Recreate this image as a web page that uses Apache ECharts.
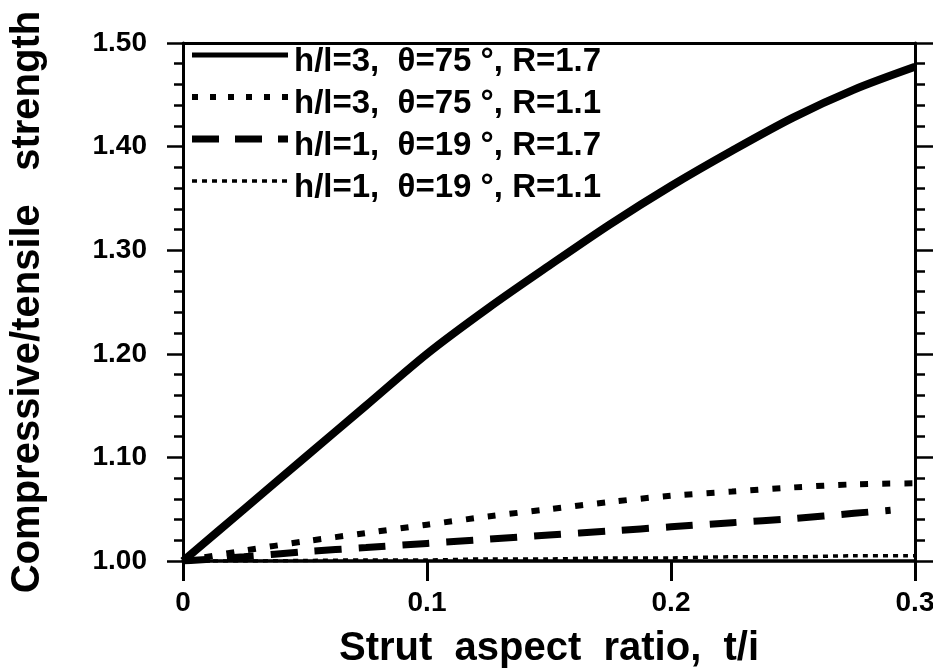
<!DOCTYPE html>
<html>
<head>
<meta charset="utf-8">
<script src="https://cdn.jsdelivr.net/npm/echarts@6/dist/echarts.min.js"></script>
<style>
  html, body { margin: 0; padding: 0; background: #fff; }
  #chart { width: 933px; height: 672px; }
</style>
</head>
<body>
<div id="chart"></div>
<script>
// Strut aspect ratio t/l (x values)
var aspectRatio = [0, 0.025, 0.05, 0.075, 0.1, 0.125, 0.15, 0.175, 0.2, 0.225, 0.25, 0.275, 0.3];
var aspectRatioShort = [0, 0.025, 0.05, 0.075, 0.1, 0.125, 0.15, 0.175, 0.2, 0.225, 0.25, 0.275, 0.29];

// Compressive/tensile strength ratio for each configuration
var h3t75R17 = [1.000, 1.050, 1.100, 1.150, 1.200, 1.244, 1.285, 1.325, 1.362, 1.396, 1.428, 1.455, 1.477];
var h3t75R11 = [1.000, 1.010, 1.019, 1.027, 1.035, 1.043, 1.050, 1.057, 1.063, 1.067, 1.071, 1.074, 1.075];
var h1t19R17 = [1.000, 1.004, 1.009, 1.013, 1.017, 1.021, 1.025, 1.029, 1.033, 1.037, 1.041, 1.046, 1.049];
var h1t19R11 = [1.000, 1.000, 1.0005, 1.001, 1.001, 1.002, 1.002, 1.003, 1.003, 1.004, 1.004, 1.005, 1.005];

var seriesNames = [
  'h/l=3,  \u03b8=75 \u00b0, R=1.7',
  'h/l=3,  \u03b8=75 \u00b0, R=1.1',
  'h/l=1,  \u03b8=19 \u00b0, R=1.7',
  'h/l=1,  \u03b8=19 \u00b0, R=1.1'
];

var xTicks = [0, 0.1, 0.2, 0.3];
var yTicks = [1.00, 1.10, 1.20, 1.30, 1.40, 1.50];

function pairs(xs, ys) {
  return xs.map(function (x, i) { return [x, ys[i]]; });
}

var FONT = '"Liberation Sans", Arial, Helvetica, sans-serif';

// Curve styles: solid, square dots, long dashes, fine dots
var lineStyles = [
  { color: '#000', width: 8, type: 'solid' },
  { color: '#000', width: 6, type: [8, 14] },
  { color: '#000', width: 7, type: [27, 17] },
  { color: '#000', width: 3.5, type: [5, 5] }
];
// Legend sample strokes (slightly finer than the curves)
var legendSamples = [
  { width: 5, dash: null },
  { width: 6, dash: [6, 12] },
  { width: 7, dash: [27, 16] },
  { width: 3.5, dash: [5, 5] }
];

var datasets = [
  pairs(aspectRatio, h3t75R17),
  pairs(aspectRatio, h3t75R11),
  pairs(aspectRatioShort, h1t19R17),
  pairs(aspectRatio, h1t19R11)
];

var chart = echarts.init(document.getElementById('chart'));

// Key box in the upper-left corner of the plot
var legendLeft = 192, legendLineLen = 96, legendTextX = 294;
var legendRowTop = 55, legendRowStep = 42;
var legendGraphics = [];
seriesNames.forEach(function (name, i) {
  var yLine = legendRowTop + i * legendRowStep;
  legendGraphics.push({
    type: 'line',
    shape: { x1: legendLeft, y1: yLine, x2: legendLeft + legendLineLen, y2: yLine },
    style: {
      stroke: '#000',
      lineWidth: legendSamples[i].width,
      lineDash: legendSamples[i].dash
    },
    z: 100
  });
  legendGraphics.push({
    type: 'text',
    x: legendTextX,
    y: yLine + 7,
    style: {
      text: name,
      fill: '#000',
      font: 'bold 33px ' + FONT,
      verticalAlign: 'middle',
      align: 'left'
    },
    z: 100
  });
});

chart.setOption({
  backgroundColor: '#fff',
  animation: false,
  grid: { left: 183, right: 18, top: 43, bottom: 111, containLabel: false, outerBoundsMode: 'none' },
  graphic: legendGraphics,
  xAxis: [{
    type: 'value',
    min: 0, max: 0.3, interval: 0.1,
    position: 'bottom',
    name: 'Strut  aspect  ratio,  t/i',
    nameLocation: 'middle',
    nameGap: 68,
    nameTextStyle: { fontFamily: FONT, fontWeight: 'bold', fontSize: 40, color: '#000' },
    axisLine: { onZero: false, lineStyle: { color: '#000', width: 3.5 } },
    axisTick: { show: true, inside: false, length: 20, lineStyle: { color: '#000', width: 3 } },
    minorTick: { show: false },
    splitLine: { show: false },
    axisLabel: {
      margin: 28,
      fontFamily: FONT, fontWeight: 'bold', fontSize: 28, color: '#000',
      formatter: function (v) {
        var i = xTicks.findIndex(function (t) { return Math.abs(t - v) < 1e-9; });
        return i === 0 ? '0' : (i > 0 ? xTicks[i].toFixed(1) : '');
      }
    }
  }, {
    type: 'value',
    min: 0, max: 0.3, interval: 0.1,
    position: 'top',
    axisLine: { onZero: false, lineStyle: { color: '#000', width: 3 } },
    axisTick: { show: false },
    axisLabel: { show: false },
    splitLine: { show: false }
  }],
  yAxis: [{
    type: 'value',
    min: 1.0, max: 1.5, interval: 0.1,
    position: 'left',
    name: 'Compressive/tensile   strength',
    nameLocation: 'middle',
    nameGap: 135,
    nameTextStyle: { fontFamily: FONT, fontWeight: 'bold', fontSize: 40, color: '#000' },
    axisLine: { onZero: false, lineStyle: { color: '#000', width: 3 } },
    axisTick: { show: true, inside: false, length: 16, lineStyle: { color: '#000', width: 2.5 } },
    minorTick: { show: true, splitNumber: 5, length: 9, lineStyle: { color: '#000', width: 2.5 } },
    splitLine: { show: false },
    axisLabel: {
      margin: 36,
      fontFamily: FONT, fontWeight: 'bold', fontSize: 28, color: '#000',
      formatter: function (v) { return v.toFixed(2); }
    }
  }, {
    type: 'value',
    min: 1.0, max: 1.5, interval: 0.1,
    position: 'right',
    axisLine: { onZero: false, lineStyle: { color: '#000', width: 3 } },
    axisTick: { show: true, inside: false, length: 18, lineStyle: { color: '#000', width: 2.5 } },
    minorTick: { show: true, splitNumber: 5, length: 10, lineStyle: { color: '#000', width: 2.5 } },
    splitLine: { show: false },
    axisLabel: { show: false }
  }],
  series: datasets.map(function (d, i) {
    return {
      name: seriesNames[i],
      type: 'line',
      xAxisIndex: 0,
      yAxisIndex: 0,
      data: d,
      smooth: 0.3,
      symbol: 'none',
      color: '#000',
      lineStyle: lineStyles[i],
      z: 4 - i
    };
  })
});
</script>
</body>
</html>
